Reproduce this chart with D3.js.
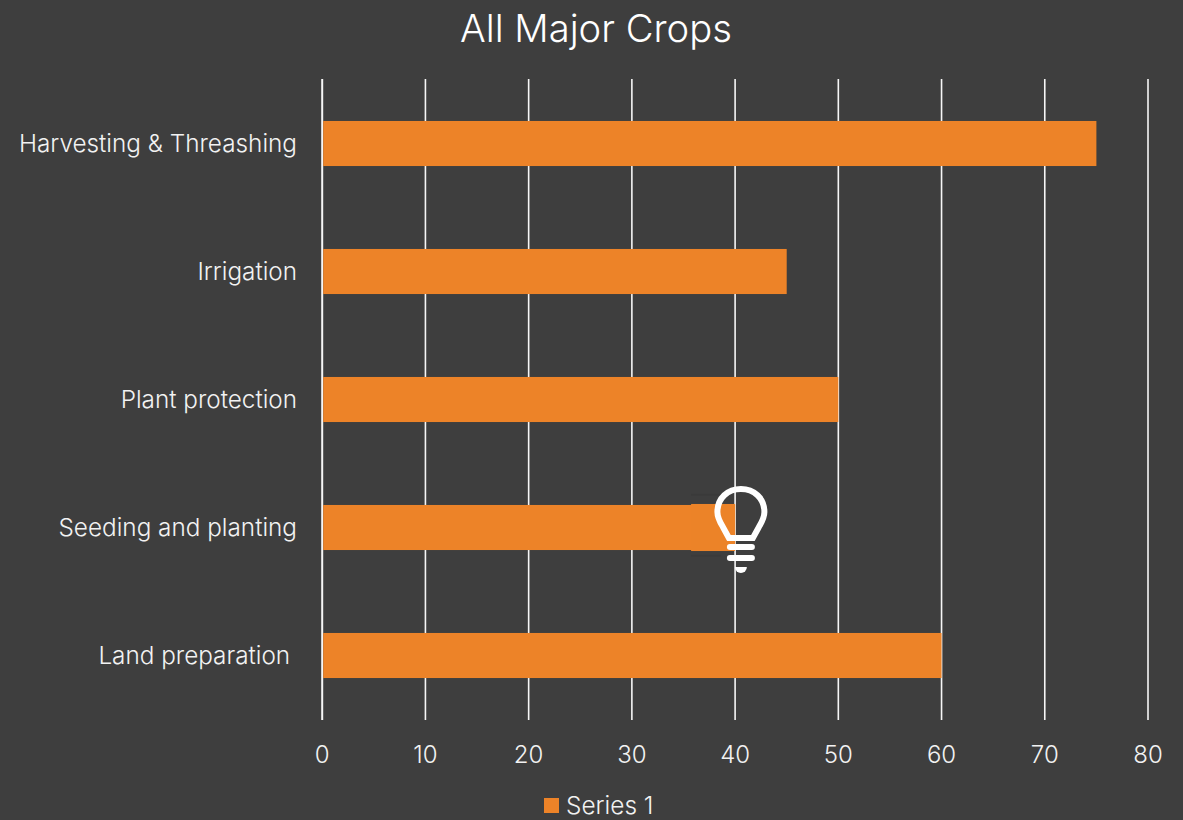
<!DOCTYPE html>
<html><head><meta charset="utf-8">
<script src="https://cdn.jsdelivr.net/npm/d3@7"></script>
<style>
html,body{margin:0;padding:0;background:#3e3e3e;overflow:hidden}
text{font-family:Inter,"Liberation Sans",sans-serif;font-weight:300;fill:#f2f2f2}
</style></head><body>
<svg id="c" width="1183" height="820"></svg>
<script>
const categories=["Harvesting & Threashing","Irrigation","Plant protection","Seeding and planting","Land preparation "];
const values=[75,45,50,40,60];
const xTicks=[0,10,20,30,40,50,60,70,80];
const seriesName="Series 1";
const chartTitle="All Major Crops";
const highlightCategory="Seeding and planting";
const barColor="#ed8328";

const svg=d3.select("#c");
svg.append("rect").attr("width",1183).attr("height",820).attr("fill","#3e3e3e");
const x=d3.scaleLinear().domain([0,80]).range([322.2,1148]);
const y=d3.scaleBand().domain(categories).range([79.5,719.5]).paddingInner(0.648).paddingOuter(0.324);

svg.append("text").attr("x",596).attr("y",41.5).attr("text-anchor","middle").attr("font-size",38.2).style("fill","#fff").text(chartTitle);

const grid=svg.append("g");
grid.selectAll("line").data(xTicks).join("line")
  .attr("x1",d=>x(d)).attr("x2",d=>x(d)).attr("y1",79).attr("y2",720)
  .attr("stroke","#f6f6f6").attr("stroke-width",d=>d===0?2:1.6);

svg.append("g").selectAll("rect").data(categories).join("rect")
  .attr("x",x(0)+1).attr("y",d=>y(d))
  .attr("width",(d,i)=>x(values[i])-x(0)-1).attr("height",y.bandwidth()).attr("fill",barColor);

svg.append("g").selectAll("text").data(categories).join("text")
  .attr("x",297).attr("y",d=>y(d)+y.bandwidth()/2+8.5)
  .attr("text-anchor","end").attr("font-size",24.3).style("white-space","pre").text(d=>d);

svg.append("g").selectAll("text").data(xTicks).join("text")
  .attr("x",d=>x(d)).attr("y",763).attr("text-anchor","middle").attr("font-size",24).text(d=>d);

svg.append("rect").attr("x",544).attr("y",798).attr("width",15).attr("height",15).attr("fill",barColor);
svg.append("text").attr("x",566).attr("y",814).attr("font-size",24.4).text(seriesName);

const hi=y(highlightCategory), v=values[categories.indexOf(highlightCategory)];
svg.append("rect").attr("x",x(v)-44).attr("y",hi-1).attr("width",44).attr("height",y.bandwidth()+2).attr("fill","#ec8328");
svg.append("rect").attr("x",x(v)-44).attr("y",hi-11).attr("width",30).attr("height",1.5).attr("fill","#3a3a3a");
svg.append("rect").attr("x",x(v)-44).attr("y",hi+50).attr("width",30).attr("height",1.5).attr("fill","#3a3a3a");
const bulb=svg.append("g").attr("transform",`translate(${x(v)+5.8},${hi+7})`)
  .attr("fill","none").attr("stroke","#fff").attr("stroke-linecap","round");
bulb.append("path").attr("stroke-width",6)
  .attr("d","M-12,26 L-18,15 C-21,10 -23.5,6 -23.5,0 C-23.5,-14 -13,-23 0,-23 C13,-23 23.5,-14 23.5,0 C23.5,6 21,10 18,15 L12,26 Z");
bulb.append("line").attr("x1",-11).attr("x2",11).attr("y1",35).attr("y2",35).attr("stroke-width",6);
bulb.append("line").attr("x1",-11).attr("x2",11).attr("y1",46).attr("y2",46).attr("stroke-width",6);
bulb.append("path").attr("d","M-6,55 A6,6 0 0 0 6,55 Z").attr("fill","#fff").attr("stroke","none");
</script></body></html>
